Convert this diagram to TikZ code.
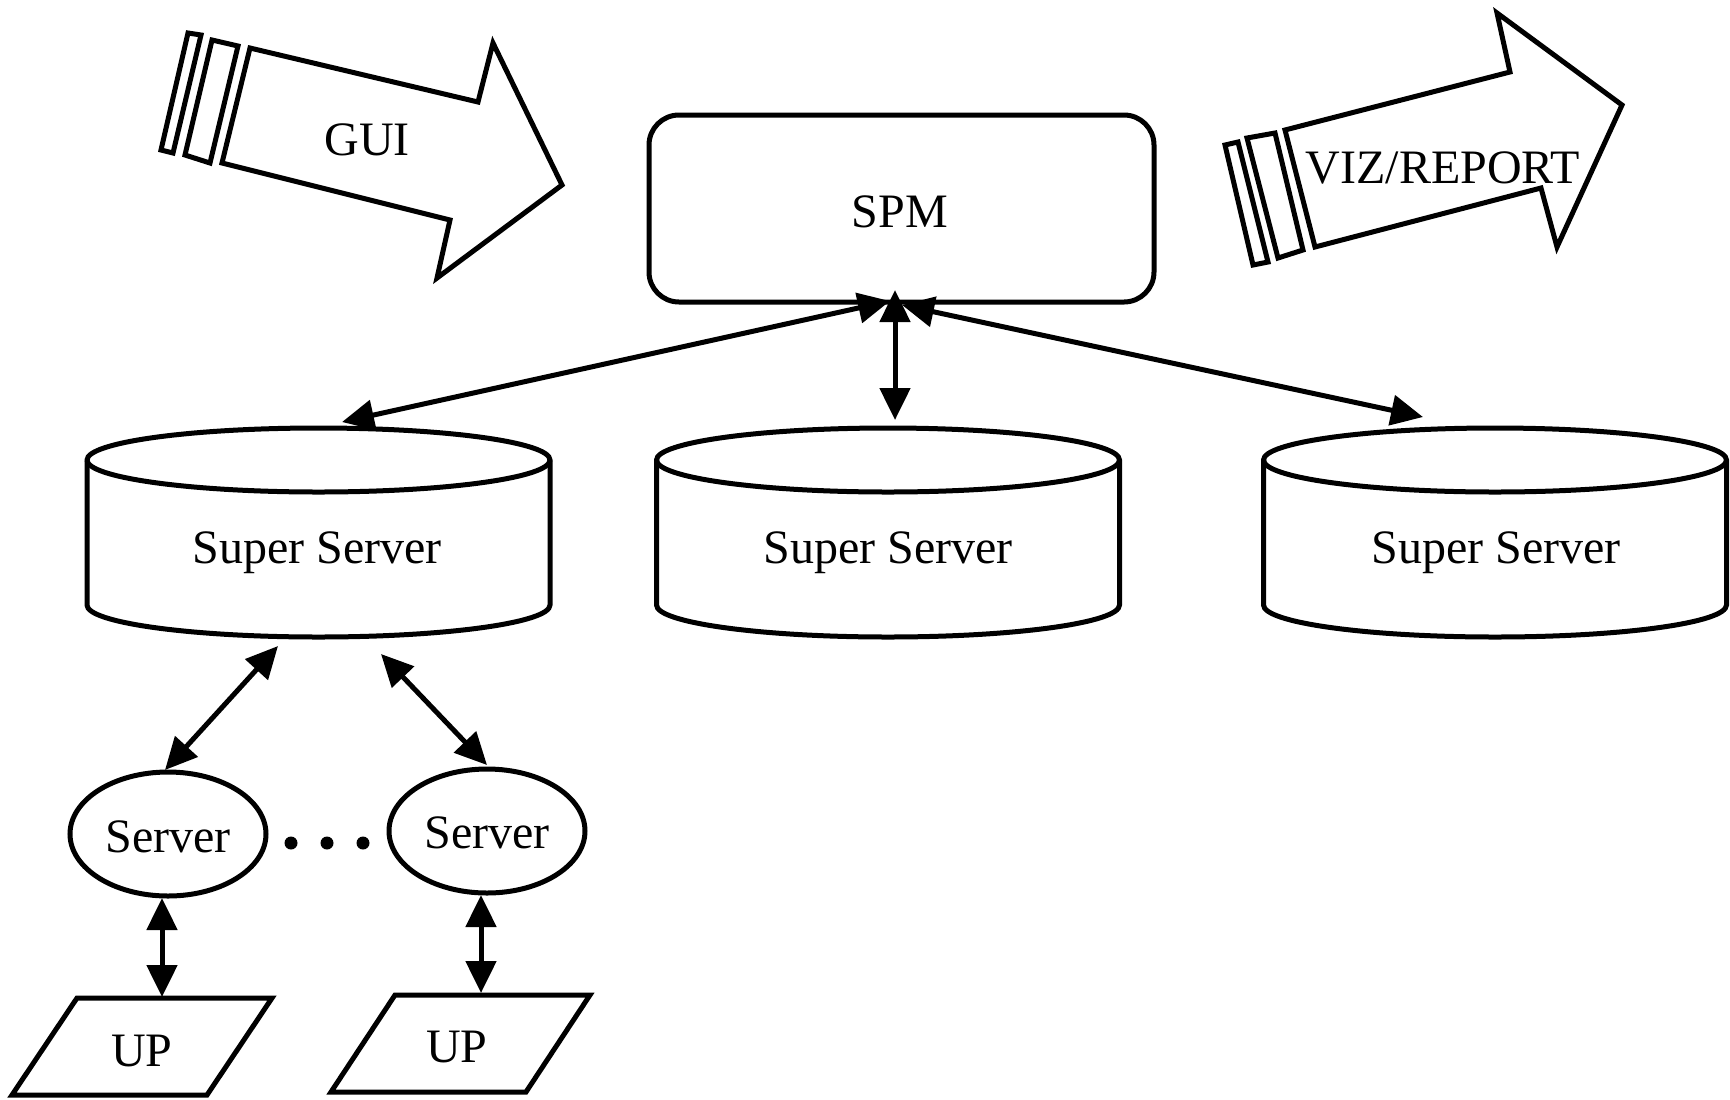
\documentclass[tikz,border=0pt]{standalone}
\usepackage{fontspec}
\setmainfont{Liberation Serif}
\usetikzlibrary{arrows.meta,shapes.geometric}
\begin{document}
\begin{tikzpicture}[x=0.5pt,y=-0.5pt,
  line join=miter,
  lbl/.style={font=\fontsize{24pt}{28pt}\selectfont, inner sep=0pt},
  outline/.style={draw=black, line width=2.5pt, fill=white},
  conn/.style={{Triangle[length=16pt,width=15pt]}-{Triangle[length=16pt,width=15pt]}, line width=2.5pt},
  dotnode/.style={circle, fill=black, inner sep=0pt, minimum size=6.5pt},
]
\useasboundingbox (0,0) rectangle (1730,1099);

% ---------- GUI arrow ----------
\draw[outline] (250,48) -- (478,102) -- (493,43) -- (562,185) -- (437,278) -- (450,220) -- (222,163) -- cycle;
\draw[outline] (212,40) -- (238,46) -- (210,163) -- (185,155) -- cycle;
\draw[outline] (188,33) -- (201,35) -- (173,153) -- (161,150) -- cycle;
\node[lbl, anchor=base] (gui) at (367,155) {GUI};

% ---------- VIZ/REPORT arrow ----------
\draw[outline] (1285,130) -- (1510,72) -- (1497,13) -- (1622,105) -- (1557,247) -- (1541,188) -- (1315,247) -- cycle;
\draw[outline] (1247,138) -- (1275,133) -- (1303,250) -- (1278,258) -- cycle;
\draw[outline] (1225,145) -- (1238,142) -- (1268,262) -- (1253,265) -- cycle;
\node[lbl, anchor=base] (viz) at (1443,183) {VIZ/REPORT};

% ---------- SPM ----------
\node[outline, rounded corners=15pt, minimum width=252.5pt, minimum height=93.5pt] (spm) at (901.5,208.5) {};
\node[lbl, anchor=base] (spmtext) at (900,227) {SPM};

% ---------- Super Servers (cylinders) ----------
\newcommand\mycyl[1]{%
  \draw[outline] ({#1-231.5},460) -- ({#1-231.5},605)
     arc[start angle=180, end angle=0, x radius=231.5, y radius=32]
     -- ({#1+231.5},460)
     arc[start angle=0, end angle=-180, x radius=231.5, y radius=32] -- cycle;
  \draw[line width=2.5pt] ({#1-231.5},460) arc[start angle=180, end angle=0, x radius=231.5, y radius=32];
}
\mycyl{318.5}
\mycyl{888}
\mycyl{1495}
\node[lbl, anchor=base] (ss1) at (317,563) {Super Server};
\node[lbl, anchor=base] (ss2) at (888,563) {Super Server};
\node[lbl, anchor=base] (ss3) at (1496,563) {Super Server};

% ---------- Servers ----------
\node[outline, ellipse, minimum width=98pt, minimum height=62pt, inner sep=0pt] (srv1) at (168,834) {};
\node[outline, ellipse, minimum width=98pt, minimum height=62pt, inner sep=0pt] (srv2) at (487,831) {};
\node[lbl, anchor=base] (srv1text) at (168,852) {Server};
\node[lbl, anchor=base] (srv2text) at (487,848) {Server};
\node[dotnode] (d1) at (291,843) {};
\node[dotnode] (d2) at (327,843) {};
\node[dotnode] (d3) at (363,843) {};

% ---------- UP ----------
\draw[outline] (77,998) -- (272,998) -- (207,1095) -- (12,1095) -- cycle;
\draw[outline] (395,995) -- (590,995) -- (526,1092) -- (331,1092) -- cycle;
\node[lbl, anchor=base] (up1) at (142,1066) {UP};
\node[lbl, anchor=base] (up2) at (457,1062) {UP};

% ---------- connector end points ----------
\coordinate (spmL) at (890,301);
\coordinate (spmM) at (895,290);
\coordinate (spmR) at (902,305);
\coordinate (ss1top) at (342,422);
\coordinate (ss2top) at (895,420);
\coordinate (ss3top) at (1423,417);
\coordinate (ss1botL) at (278,646);
\coordinate (ss1botR) at (381,654);
\coordinate (srv1top) at (165,770);
\coordinate (srv2top) at (487,765);
\coordinate (srv1bot) at (162,898);
\coordinate (srv2bot) at (481,895);
\coordinate (up1top) at (162,997);
\coordinate (up2top) at (481,993);

% ---------- connectors ----------
\draw[conn] (spmL) -- (ss1top);
\draw[conn] (spmM) -- (ss2top);
\draw[conn] (spmR) -- (ss3top);
\draw[conn] (ss1botL) -- (srv1top);
\draw[conn] (ss1botR) -- (srv2top);
\draw[conn] (srv1bot) -- (up1top);
\draw[conn] (srv2bot) -- (up2top);
\end{tikzpicture}
\end{document}
